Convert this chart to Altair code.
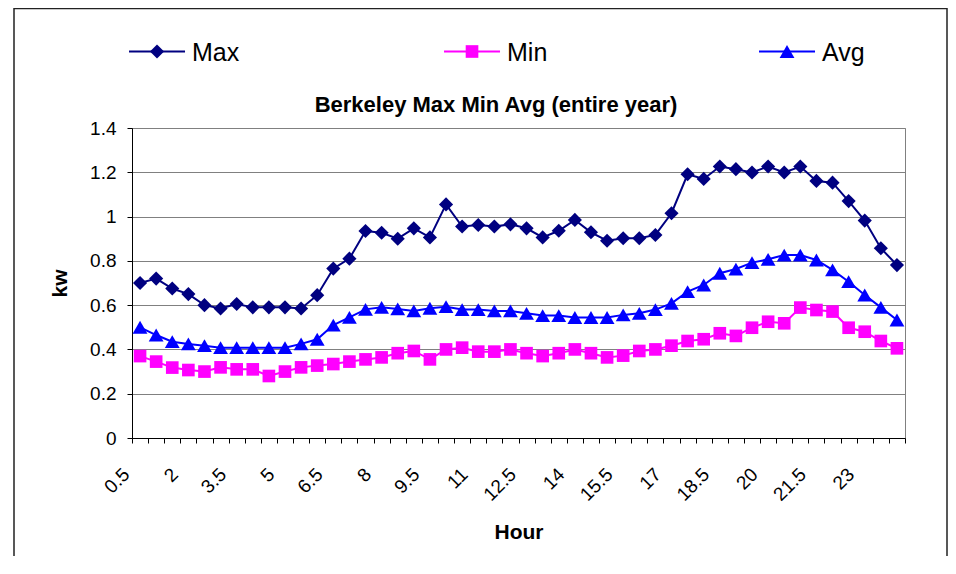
import altair as alt
import pandas as pd

hours = ["0.5", "1", "1.5", "2", "2.5", "3", "3.5", "4", "4.5", "5", "5.5", "6",
         "6.5", "7", "7.5", "8", "8.5", "9", "9.5", "10", "10.5", "11", "11.5", "12",
         "12.5", "13", "13.5", "14", "14.5", "15", "15.5", "16", "16.5", "17", "17.5", "18",
         "18.5", "19", "19.5", "20", "20.5", "21", "21.5", "22", "22.5", "23", "23.5", "24"]

max_kw = [0.70, 0.72, 0.675, 0.65, 0.60, 0.585, 0.605, 0.59, 0.59, 0.59,
          0.585, 0.645, 0.765, 0.81, 0.935, 0.927, 0.90, 0.947, 0.906, 1.055,
          0.955, 0.962, 0.955, 0.965, 0.947, 0.906, 0.936, 0.985, 0.929, 0.891,
          0.902, 0.902, 0.917, 1.015, 1.191, 1.170, 1.226, 1.214, 1.199, 1.226,
          1.199, 1.226, 1.161, 1.153, 1.070, 0.982, 0.857, 0.781]

min_kw = [0.37, 0.345, 0.318, 0.307, 0.30, 0.319, 0.31, 0.31, 0.28, 0.30,
          0.319, 0.327, 0.334, 0.345, 0.355, 0.364, 0.383, 0.393, 0.355, 0.40,
          0.408, 0.39, 0.39, 0.40, 0.383, 0.37, 0.383, 0.40, 0.383, 0.364,
          0.372, 0.393, 0.40, 0.417, 0.438, 0.446, 0.473, 0.461, 0.498, 0.525,
          0.518, 0.589, 0.578, 0.571, 0.498, 0.48, 0.438, 0.405]

avg_kw = [0.50, 0.465, 0.435, 0.425, 0.417, 0.408, 0.408, 0.408, 0.408, 0.408,
          0.425, 0.446, 0.51, 0.545, 0.581, 0.59, 0.583, 0.574, 0.586, 0.593,
          0.58, 0.58, 0.574, 0.574, 0.563, 0.553, 0.553, 0.544, 0.544, 0.544,
          0.556, 0.563, 0.58, 0.608, 0.661, 0.691, 0.744, 0.763, 0.792, 0.807,
          0.826, 0.826, 0.804, 0.759, 0.706, 0.646, 0.59, 0.533]

series_names = ["Max", "Min", "Avg"]
series_colors = ["#000080", "#FF00FF", "#0000FF"]
series_shapes = ["diamond", "square", "triangle-up"]
series_sizes = [200, 160, 220]
y_ticks = [0, 0.2, 0.4, 0.6, 0.8, 1.0, 1.2, 1.4]
title_text = "Berkeley Max Min Avg (entire year)"

rows = []
for name, vals in zip(series_names, [max_kw, min_kw, avg_kw]):
    for h, v in zip(hours, vals):
        rows.append({"hour": h, "series": name, "kw": v})
df = pd.DataFrame(rows)
legend_df = pd.DataFrame({"series": series_names})
title_df = pd.DataFrame({"t": [title_text]})

FONT = "Liberation Sans"
W, H = 773, 310

color = alt.Color("series:N", scale=alt.Scale(domain=series_names, range=series_colors), legend=None)
shape = alt.Shape("series:N", scale=alt.Scale(domain=series_names, range=series_shapes), legend=None)
size = alt.Size("series:N", scale=alt.Scale(type="ordinal", domain=series_names, range=series_sizes),
                legend=None)

x = alt.X(
    "hour:O", sort=hours,
    scale=alt.Scale(type="band", paddingInner=0, paddingOuter=0),
    axis=alt.Axis(
        title="Hour", tickBand="extent", labelAngle=-45, labelAlign="right",
        labelBaseline="middle", labelPadding=28, labelOffset=-14,
        labelExpr="(toNumber(datum.value) - 0.5) % 1.5 == 0 ? datum.label : ''",
        labelOverlap=False, labelFontSize=19, labelFont=FONT, labelColor="black",
        tickSize=5, tickColor="black", domainColor="black", grid=False,
        titleFont=FONT, titleFontSize=21, titleFontWeight="bold", titleColor="black",
        titleY=100, titleBaseline="alphabetic",
    ),
)
y = alt.Y(
    "kw:Q", scale=alt.Scale(domain=[0, 1.4], nice=False),
    axis=alt.Axis(
        title="kw", values=y_ticks, format="~g", grid=True, gridColor="#808080",
        gridWidth=1, tickSize=5, tickColor="black", domainColor="black",
        labelFontSize=19, labelFont=FONT, labelColor="black", labelPadding=11,
        titleFont=FONT, titleFontSize=21, titleFontWeight="bold", titleColor="black",
        titleAngle=-90, titleX=-66, titleY=155, titleAlign="center",
        titleBaseline="alphabetic",
    ),
)

lines = alt.Chart(df).mark_line(strokeWidth=2).encode(x=x, y=y, color=color)
points = alt.Chart(df).mark_point(filled=True, opacity=1).encode(
    x=x, y=y, color=color, shape=shape, size=size)
main = alt.layer(lines, points)

lx = alt.X("series:N", sort=series_names,
           scale=alt.Scale(type="point", domain=series_names, padding=0.227, align=0.175),
           axis=None)
leg_rule = alt.Chart(legend_df).mark_rule(strokeWidth=2, xOffset=-28, x2Offset=28).encode(
    x=lx, x2=alt.X2("series:N"), y=alt.value(-76.5), color=color)
leg_pts = alt.Chart(legend_df).mark_point(filled=True, opacity=1).encode(
    x=lx, y=alt.value(-76.5), color=color, shape=shape, size=size)
leg_text = alt.Chart(legend_df).mark_text(
    align="left", baseline="middle", dx=35, fontSize=25, font=FONT, color="black").encode(
    x=lx, y=alt.value(-75), text="series:N")
legend = alt.layer(leg_rule, leg_pts, leg_text)

title = alt.Chart(title_df).mark_text(
    fontSize=22, fontWeight="bold", font=FONT, color="black", baseline="middle").encode(
    x=alt.value(364), y=alt.value(-23), text="t:N")

border = alt.Chart(title_df).mark_rect(fillOpacity=0, stroke="#222222", strokeWidth=1.5).encode(
    x=alt.value(-118), x2=alt.value(815), y=alt.value(-119.5), y2=alt.value(600))

chart = alt.layer(border, main, legend, title).resolve_scale(x="independent").properties(
    width=W, height=H,
    autosize=alt.AutoSizeParams(type="none"),
    padding={"left": 124, "top": 120, "right": 43, "bottom": 118},
    background="white",
).configure_view(stroke="#808080", strokeWidth=1)

chart.save("out.html", embed_options={"renderer": "svg", "actions": False})
